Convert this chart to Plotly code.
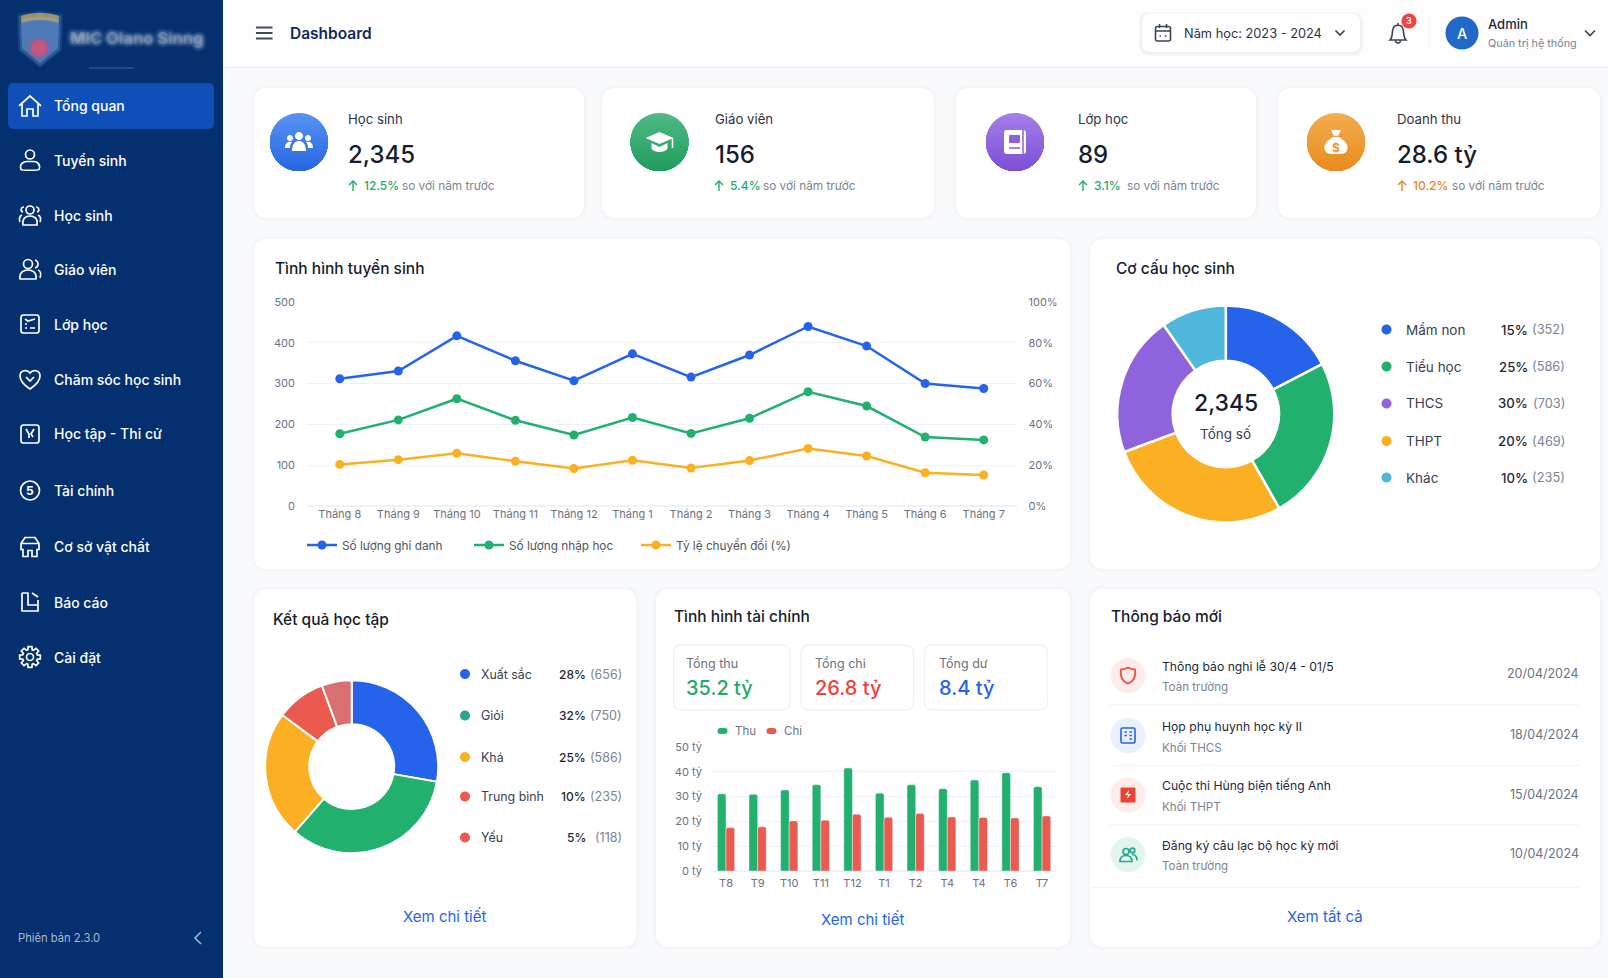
import re
import math
import plotly.graph_objects as go

W = 1608
H = 978
FONT = "Inter"

BLUE = "#2563eb"
GREEN = "#22b06f"
ORANGE = "#fbb024"
RED = "#eb5a4e"
PURPLE = "#8f63dc"
SKY = "#4fb6dc"
DARK = "#161d2c"
TEXT = "#374151"
GREY = "#7a8494"
GRID = "#eef1f5"
NAVY = "#04306f"

# sidebar and header
menu_items = ["Tổng quan", "Tuyển sinh", "Học sinh", "Giáo viên", "Lớp học", "Chăm sóc học sinh",
              "Học tập - Thi cử", "Tài chính", "Cơ sở vật chất", "Báo cáo", "Cài đặt"]
menu_y = [106, 160.5, 215, 269, 324, 379, 434, 490.5, 546.5, 602, 657]

# stat cards
stat_labels = ["Học sinh", "Giáo viên", "Lớp học", "Doanh thu"]
stat_values = ["2,345", "156", "89", "28.6 tỷ"]
stat_deltas = ["12.5%", "5.4%", "3.1%", "10.2%"]

# enrolment chart
months = ["Tháng 8", "Tháng 9", "Tháng 10", "Tháng 11", "Tháng 12", "Tháng 1", "Tháng 2", "Tháng 3",
          "Tháng 4", "Tháng 5", "Tháng 6", "Tháng 7"]
registered = [312, 331, 417, 356, 307, 373, 316, 370, 440, 392, 300, 288]
enrolled = [177, 211, 263, 210, 174, 217, 178, 215, 280, 245, 169, 162]
conversion = [20.4, 22.7, 25.8, 21.9, 18.4, 22.4, 18.6, 22.3, 28.2, 24.5, 16.3, 15.2]

# student structure donut (slices drawn in this order in the picture)
slice_labels = ["Mầm non", "Tiểu học", "THPT", "THCS", "Khác"]
slice_values = [17.4, 24.4, 27.5, 21.0, 9.7]
structure_labels = ["Mầm non", "Tiểu học", "THCS", "THPT", "Khác"]
structure_pct = ["15%", "25%", "30%", "20%", "10%"]
structure_count = ["(352)", "(586)", "(703)", "(469)", "(235)"]

# results donut
result_labels = ["Xuất sắc", "Giỏi", "Khá", "Trung bình", "Yếu"]
result_slices = [27.8, 33.6, 23.8, 9.2, 5.6]
result_pct = ["28%", "32%", "25%", "10%", "5%"]
result_count = ["(656)", "(750)", "(586)", "(235)", "(118)"]

# finance chart
fin_labels = ["T8", "T9", "T10", "T11", "T12", "T1", "T2", "T4", "T4", "T6", "T7"]
fin_in = [31.1, 30.9, 32.7, 34.8, 41.5, 31.4, 34.8, 33.2, 36.7, 39.6, 34.0]
fin_out = [17.5, 17.8, 20.2, 20.5, 22.9, 21.7, 23.2, 21.8, 21.6, 21.4, 22.2]
fin_totals = ["35.2 tỷ", "26.8 tỷ", "8.4 tỷ"]
fin_total_labels = ["Tổng thu", "Tổng chi", "Tổng dư"]

# notifications
notice_titles = ["Thông báo nghi lễ 30/4 - 01/5", "Họp phụ huynh học kỳ II", "Cuộc thi Hùng biện tiếng Anh",
                 "Đăng ký câu lạc bộ học kỳ mới"]
notice_groups = ["Toàn trường", "Khối THCS", "Khối THPT", "Toàn trường"]
notice_dates = ["20/04/2024", "18/04/2024", "15/04/2024", "10/04/2024"]

shapes = []
notes = []


def path(d, cx=0, cy=0, s=1):
    out = []
    is_x = True
    for tok in re.findall(r"[A-Za-z]|-?\d*\.?\d+", d):
        if tok.isalpha():
            out.append(tok)
            is_x = True
        elif is_x:
            out.append(f"{(cx + s * float(tok)) / W:.5f}")
            is_x = False
        else:
            out.append(f",{1 - (cy + s * float(tok)) / H:.5f} ")
            is_x = True
    return "".join(out)


def draw(d, cx=0, cy=0, s=1, fill=None, line=None, w=0, opacity=1):
    shapes.append(dict(type="path", path=path(d, cx, cy, s), xref="paper", yref="paper", layer="below",
                       fillcolor=fill if fill else "rgba(0,0,0,0)", opacity=opacity,
                       line=dict(color=line if line else "rgba(0,0,0,0)", width=w)))


def rr(x0, y0, x1, y1, r):
    return (f"M{x0 + r} {y0} L{x1 - r} {y0} Q{x1} {y0} {x1} {y0 + r} L{x1} {y1 - r} Q{x1} {y1} {x1 - r} {y1} "
            f"L{x0 + r} {y1} Q{x0} {y1} {x0} {y1 - r} L{x0} {y0 + r} Q{x0} {y0} {x0 + r} {y0} Z")


def circ(cx, cy, r):
    k = round(0.5523 * r, 3)
    return (f"M{cx - r} {cy} C{cx - r} {cy - k} {cx - k} {cy - r} {cx} {cy - r} "
            f"C{cx + k} {cy - r} {cx + r} {cy - k} {cx + r} {cy} "
            f"C{cx + r} {cy + k} {cx + k} {cy + r} {cx} {cy + r} "
            f"C{cx - k} {cy + r} {cx - r} {cy + k} {cx - r} {cy} Z")


def grad_circle(cx, cy, r, top, bottom, bands=14):
    # top to bottom fake gradient: each band is the circle segment from its own top edge downwards
    draw(circ(cx, cy, r), fill=f"rgb{top}")
    for b in range(1, bands):
        f = b / bands
        col = tuple(round(top[c] + (bottom[c] - top[c]) * f) for c in range(3))
        start = math.asin(1 - 2 * f)
        pts = []
        for n in range(41):
            a = -start + (math.pi + 2 * start) * n / 40
            pts.append(f"{round(cx + r * math.cos(a), 2)} {round(cy + r * math.sin(a), 2)}")
        draw("M" + " L".join(pts) + " Z", fill=f"rgb{col}")


def txt(x, y, text, size=14, color=TEXT, weight=400, anchor="left", shadow=None):
    font = dict(family=FONT, size=size, color=color, weight=weight)
    if shadow:
        font["shadow"] = shadow
    notes.append(dict(x=x / W, y=1 - y / H, xref="paper", yref="paper", text=text, showarrow=False,
                      xanchor=anchor, yanchor="middle", borderpad=0, borderwidth=0, font=font))


def card(x0, y0, x1, y1, r=14):
    draw(rr(x0 - 3, y0 - 3, x1 + 3, y1 + 3, r + 3), fill="#e8ebf2", opacity=0.15)
    draw(rr(x0 - 1.5, y0 - 1.5, x1 + 1.5, y1 + 1.5, r + 1.5), fill="#e8ebf2", opacity=0.3)
    draw(rr(x0, y0, x1, y1, r), fill="#ffffff")


# ---- sidebar
draw(f"M0 0 L223 0 L223 {H} L0 {H} Z", fill=NAVY)
draw(rr(8, 83, 214, 129, 6), fill="#0f50b8")

# blurred logo
draw("M17 14 L40 10 L63 14 L62 50 L40 68 L18 50 Z", fill="#5f8cc8", opacity=0.18)
draw("M19 16 L40 12 L61 16 L60 50 L40 66 L20 50 Z", fill="#5f8cc8", opacity=0.35)
draw("M21 19 L40 16 L59 19 L58 48 L40 63 L22 48 Z", fill="#5a86c4", opacity=0.75)
draw("M21 16 C30 12 50 12 59 16 L58 23 C48 19 32 19 22 23 Z", fill="#c9ab62", opacity=0.7)
draw(circ(39, 48, 11), fill="#d84a78", opacity=0.3)
draw(circ(39, 48, 8), fill="#dc4f6e", opacity=0.75)
txt(70, 38, "MIC Olano Sinng", 16.5, "rgba(215,226,243,0.16)", 700,
    shadow="0 0 6px #fff, 0 0 6px #fff, 0 0 5px #fff, 0 0 5px #fff, 0 0 4px #fff, 0 0 4px #fff")
draw("M89 68 L134 68", line="#3f639b", w=1)

ICON = dict(line="#ffffff", w=1.7)
draw("M-11 0 L0 -10 L11 0 M-8 -2 L-8 10 L-3 10 L-3 3 L3 3 L3 10 L8 10 L8 -2", 30, menu_y[0], 1, **ICON)
draw(circ(0, -6, 4.5), 30, menu_y[1], 1, **ICON)
draw("M-9 9 C-11 3 -6 1 -3 1 L4 1 C7 1 11 4 9 9 C8 10 -8 10 -9 9 Z", 30, menu_y[1], 1, **ICON)
draw(circ(0, -5, 4), 30, menu_y[2], 1, **ICON)
draw("M-7 10 C-8 3 -4 1 0 1 C4 1 8 3 7 10 Z M-6 -8 C-9 -8 -10 -4 -7 -3 M6 -8 C9 -8 10 -4 7 -3 M-8 0 C-11 1 -11 5 -10 7 "
     "M8 0 C11 1 11 5 10 7", 30, menu_y[2], 1, **ICON)
draw(circ(-2, -5, 4.5), 30, menu_y[3], 1, **ICON)
draw("M-10 10 C-11 3 -6 1 -2 1 C2 1 7 3 6 10 Z M5 -9 C9 -8 9 -2 5 -1 M8 1 C11 2 11 6 10 9", 30, menu_y[3], 1, **ICON)
draw(rr(-9, -9, 9, 9, 2.5), 30, menu_y[4], 1, **ICON)
draw("M-5 -5 L-2 -3 L5 -5 M-5 0 L-3 0 M-5 4 L-3 4 M0 4 L5 4", 30, menu_y[4], 1, **ICON)
draw("M0 10 C-6 6 -10 2 -10 -3 C-10 -9 -3 -10 0 -6 C3 -10 10 -9 10 -3 C10 2 6 6 0 10 Z M-4 -2 L0 2 L4 -2",
     30, menu_y[5], 1, **ICON)
draw(rr(-9, -9, 9, 9, 2.5), 30, menu_y[6], 1, **ICON)
draw("M-4 -5 L-1 0 L-1 4 M4 -5 L1 0 L3 3", 30, menu_y[6], 1, **ICON)
draw(circ(0, 0, 9.5), 30, menu_y[7], 1, **ICON)
txt(30, menu_y[7], "5", 12, "#ffffff", 700, "center")
draw("M-9 -3 L-5 -9 L5 -9 L9 -3 L9 3 L7 3 L7 10 L2 10 L2 4 L-2 4 L-2 10 L-7 10 L-7 3 L-9 3 Z M-9 -3 L9 -3",
     30, menu_y[8], 1, **ICON)
draw("M-8 -9 L-2 -9 L-2 3 L8 3 M-8 -9 L-8 9 L8 9 L8 -2 M2 -9 L8 -5", 30, menu_y[9], 1, **ICON)
gear = []
for i in range(8):
    a = i * math.pi / 4
    for da, rad in [(-0.3, 7.5), (-0.18, 10.5), (0.18, 10.5), (0.3, 7.5)]:
        gear.append((round(rad * math.cos(a + da), 2), round(rad * math.sin(a + da), 2)))
draw("M" + " L".join(f"{gx} {gy}" for gx, gy in gear) + " Z", 30, menu_y[10], 1, **ICON)
draw(circ(0, 0, 3.5), 30, menu_y[10], 1, **ICON)

for name, y in zip(menu_items, menu_y):
    txt(53.5, y, name, 14, "#ffffff", 500)
txt(18, 938, "Phiên bản 2.3.0", 11.2, "#a9b8d2")
draw("M4 -6 L-2 0 L4 6", 197, 938, 1, line="#a9b8d2", w=1.5)

# ---- header
draw(f"M223 0 L{W} 0 L{W} 67 L223 67 Z", fill="#fdfdfe")
draw(f"M223 67.5 L{W} 67.5", line="#eceef2", w=1.5)
draw("M256 27.5 L272.5 27.5 M256 33 L272.5 33 M256 38.5 L272.5 38.5", line="#414a5a", w=1.8)
txt(290, 33, "Dashboard", 15.5, "#14295a", 600)

draw(rr(1139, 12, 1363, 56, 10), fill="#e4e7ee", opacity=0.3)
draw(rr(1140.5, 13, 1361.5, 54, 9), fill="#e4e7ee", opacity=0.4)
draw(rr(1142, 13.5, 1360, 52, 8), fill="#ffffff")
draw(rr(-7.5, -6.5, 7.5, 8, 2) + " M-7.5 -2 L7.5 -2 M-3.5 -9 L-3.5 -5 M3.5 -9 L3.5 -5 M-3.5 3 L-2 3 M2 3 L3.5 3",
     1163, 33, 1, line="#3c4453", w=1.6)
txt(1184, 33, "Năm học: 2023 - 2024", 12.8, "#2b3444")
draw("M-4.5 -2.5 L0 2 L4.5 -2.5", 1340, 33, 1, line="#3c4453", w=1.6)
draw("M-8 7 C-5 4 -6 -2 -5 -4 C-4 -9 4 -9 5 -4 C6 -2 5 4 8 7 Z M-2.5 7.5 C-2 11 2 11 2.5 7.5 M0 -8 L0 -10",
     1398, 33, 1, line="#3c4453", w=1.6)
draw(circ(1409, 21, 7.5), fill="#ef4444")
txt(1409, 21, "3", 9, "#ffffff", 600, "center")
draw("M1429 18 L1429 48", line="#f0f1f4", w=1)
draw(circ(1462, 33, 16.5), fill="#2268c8")
txt(1462, 33.5, "A", 14.5, "#ffffff", 500, "center")
txt(1488, 24, "Admin", 13, "#1f2937", 500)
txt(1488, 43, "Quản trị hệ thống", 10.8, GREY)
draw("M-5 -2.5 L0 2.5 L5 -2.5", 1590, 33, 1, line="#3c4453", w=1.6)

# ---- stat cards
stat_boxes = [(254, 584), (602, 934), (956, 1256), (1278, 1600)]
stat_circle_x = [299, 659.5, 1015, 1336]
stat_top = [(86, 146, 240), (78, 184, 132), (162, 126, 232), (243, 172, 80)]
stat_bottom = [(36, 100, 226), (29, 156, 92), (122, 76, 214), (232, 136, 26)]
stat_text_x = [348, 715, 1078, 1397]
stat_arrow_x = [353, 719, 1083, 1402]
stat_delta_x = [364, 730, 1094, 1413]
stat_so_x = [402, 763, 1127, 1452]
delta_colors = ["#22ab6a", "#22ab6a", "#22ab6a", "#e8842a"]
for i in range(4):
    card(stat_boxes[i][0], 88, stat_boxes[i][1], 218)
    grad_circle(stat_circle_x[i], 142, 29, stat_top[i], stat_bottom[i])
    txt(stat_text_x[i], 119, stat_labels[i], 13.2, "#2b3444")
    txt(stat_text_x[i], 154, stat_values[i], 24, DARK, 500)
    draw("M0 5 L0 -5 M-4 -1 L0 -5 L4 -1", stat_arrow_x[i], 186, 1, line=delta_colors[i], w=1.4)
    txt(stat_delta_x[i], 185.5, stat_deltas[i], 12, delta_colors[i], 500)
    txt(stat_so_x[i], 185.5, "so với năm trước", 11.8, GREY)

# people icon
draw(circ(0, -6, 4) + circ(-9, -4, 3) + circ(9, -4, 3), 299, 142, 1, fill="#ffffff")
draw("M-7 9 C-7 1 -3 -1 0 -1 C3 -1 7 1 7 9 Z M-14 6 C-14 0 -10 -1 -7 0 C-9 2 -9 4 -9 6 Z "
     "M14 6 C14 0 10 -1 7 0 C9 2 9 4 9 6 Z", 299, 142, 1, fill="#ffffff")
# cap icon
draw("M-14 -4 L0 -10 L14 -4 L0 2 Z M-8 1 L0 5 L8 1 L8 7 C4 11 -4 11 -8 7 Z", 659.5, 142, 1, fill="#ffffff")
draw("M13 -4 L13 6", 659.5, 142, 1, line="#ffffff", w=1.5)
# book icon
draw(rr(-11, -12, 11, 12, 3), 1015, 142, 1, fill="#ffffff")
draw(rr(-6, -7, 5, 1, 1), 1015, 142, 1, fill="#8b62dc")
draw("M-6 6 L5 6 M8 -12 L8 12", 1015, 142, 1, line="#8b62dc", w=1.5)
# bag icon
draw("M-5 -12 L5 -12 L2 -6 L-2 -6 Z M-3 -5 L3 -5 C10 -1 13 4 11 8 C10 12 6 12 0 12 C-6 12 -10 12 -11 8 "
     "C-13 4 -10 -1 -3 -5 Z", 1336, 142, 1, fill="#ffffff")
txt(1336, 147, "$", 12, "#f0992b", 700, "center")

# ---- big cards
card(254, 239, 1070.5, 569)
txt(275, 268, "Tình hình tuyển sinh", 15.5, DARK, 500)
card(1090, 239, 1600, 569)
txt(1116, 268, "Cơ cấu học sinh", 15.5, DARK, 500)
card(254, 589, 636.5, 947)
txt(272.5, 619, "Kết quả học tập", 15.5, DARK, 500)
card(656, 589, 1070.5, 947)
txt(673.5, 616, "Tình hình tài chính", 15.5, DARK, 500)
card(1090, 589, 1600, 947)
txt(1111, 616, "Thông báo mới", 15.5, DARK, 500)

# donut legends
slice_colors = [BLUE, GREEN, ORANGE, PURPLE, SKY]
structure_colors = [BLUE, GREEN, PURPLE, ORANGE, SKY]
structure_rows = [329.5, 366.5, 403.5, 441, 477.5]
for i in range(5):
    draw(circ(1386.5, structure_rows[i], 5), fill=structure_colors[i])
    txt(1406, structure_rows[i], structure_labels[i], 13.5, TEXT)
    txt(1527.5, structure_rows[i], structure_pct[i], 13.2, "#1f2937", 500, "right")
    txt(1565, structure_rows[i], structure_count[i], 12.8, GREY, 400, "right")
txt(1225.8, 403, "2,345", 23, DARK, 500, "center")
txt(1225.8, 433, "Tổng số", 13.5, TEXT, 400, "center")

result_colors = [BLUE, GREEN, ORANGE, RED, "#d9706f"]
result_dots = [BLUE, "#2aa58f", ORANGE, RED, RED]
result_rows = [674, 715.5, 757, 796.5, 837.5]
for i in range(5):
    draw(circ(465, result_rows[i], 5), fill=result_dots[i])
    txt(481, result_rows[i], result_labels[i], 12.4, TEXT)
    txt(585.5, result_rows[i], result_pct[i], 12, "#1f2937", 500, "right")
    txt(621.5, result_rows[i], result_count[i], 12.5, GREY, 400, "right")
txt(445, 916, "Xem chi tiết", 15, BLUE, 400, "center")

# finance boxes
fin_boxes = [(673.5, 790), (801, 913.5), (924.5, 1047.5)]
fin_box_text = [685.5, 815, 939]
fin_colors = ["#22ab6a", "#ef4136", BLUE]
for i in range(3):
    draw(rr(fin_boxes[i][0], 645, fin_boxes[i][1], 710, 8), fill="#ffffff", line="#eff1f5", w=1.3)
    txt(fin_box_text[i], 663.5, fin_total_labels[i], 12.5, "#6b7280")
    txt(fin_box_text[i], 688, fin_totals[i], 20, fin_colors[i], 500)
draw(rr(717.5, 728, 727.5, 734, 3), fill=GREEN)
txt(735, 731, "Thu", 11.5, "#6b7280")
draw(rr(766.5, 728, 776.5, 734, 3), fill=RED)
txt(783.5, 731, "Chi", 11.5, "#6b7280")
txt(862, 919, "Xem chi tiết", 15, BLUE, 400, "center")

# notifications
notice_y = [675.5, 735.5, 795, 854.5]
notice_title_y = [666.5, 726.5, 785.5, 845]
notice_group_y = [687, 747, 806, 865.5]
notice_date_y = [673.5, 734, 794, 853.5]
notice_bg = ["#fdecea", "#e8f0fe", "#fdecea", "#e3f5ef"]
for i in range(4):
    draw(circ(1128, notice_y[i], 17.5), fill=notice_bg[i])
    txt(1161.5, notice_title_y[i], notice_titles[i], 12.2, "#1f2937")
    txt(1161.5, notice_group_y[i], notice_groups[i], 11.6, GREY)
    txt(1578.5, notice_date_y[i], notice_dates[i], 12.5, "#6b7280", 400, "right")
draw("M0 -8 C3 -6 6 -6 7 -6 C8 1 6 6 0 8 C-6 6 -8 1 -7 -6 C-6 -6 -3 -6 0 -8 Z", 1128, notice_y[0], 1, line=RED, w=2)
draw(rr(-7, -7.5, 7, 7.5, 1.5), 1128, notice_y[1], 1, line=BLUE, w=1.6)
draw("M-3.5 -3.5 L-1 -3.5 M1.5 -3.5 L4 -3.5 M-3.5 0 L-1 0 M1.5 0 L4 0 M1.5 3.5 L4 3.5", 1128, notice_y[1], 1, line=BLUE, w=1.6)
draw(rr(-7.5, -7.5, 7.5, 7.5, 1), 1128, notice_y[2], 1, fill="#ea4335")
draw("M1 -5 L-3 0 L0 0 L-1 4 L3 -1 L0 -1 Z", 1128, notice_y[2], 1, fill="#ffffff")
draw(circ(-2, -3, 3) + circ(4.5, -4, 2.3), 1128, notice_y[3], 1, line="#2aa58f", w=1.7)
draw("M-8 7 C-8 2 -5 1 -2 1 C1 1 4 2 4 7 Z M4 0 C7 0 9 2 9 6", 1128, notice_y[3], 1, line="#2aa58f", w=1.7)
for y in [705, 765.5, 825]:
    draw(f"M1110 {y} L1579 {y}", line="#f0f2f5", w=1.2)
draw("M1092 887.5 L1579 887.5", line="#f0f2f5", w=1.2)
txt(1325, 916, "Xem tất cả", 15, BLUE, 400, "center")

# ---- charts
fig = go.Figure()

fig.add_trace(go.Scatter(x=months, y=registered, name="Số lượng ghi danh", mode="lines+markers",
                         line=dict(color=BLUE, width=2.5), marker=dict(size=9, color=BLUE),
                         xaxis="x", yaxis="y"))
fig.add_trace(go.Scatter(x=months, y=enrolled, name="Số lượng nhập học", mode="lines+markers",
                         line=dict(color=GREEN, width=2.5), marker=dict(size=9, color=GREEN),
                         xaxis="x", yaxis="y"))
fig.add_trace(go.Scatter(x=months, y=conversion, name="Tỷ lệ chuyển đổi (%)", mode="lines+markers",
                         line=dict(color=ORANGE, width=2.5), marker=dict(size=9, color=ORANGE),
                         xaxis="x", yaxis="y2"))

fig.add_trace(go.Pie(values=slice_values, labels=slice_labels, hole=0.49, sort=False, direction="clockwise",
                     rotation=0, textinfo="none", showlegend=False,
                     marker=dict(colors=slice_colors, line=dict(color="#ffffff", width=2.5)),
                     domain=dict(x=[(1225.8 - 108.5) / W, (1225.8 + 108.5) / W],
                                 y=[1 - (414 + 108.5) / H, 1 - (414 - 108.5) / H])))
fig.add_trace(go.Pie(values=result_slices, labels=result_labels, hole=0.49, sort=False, direction="clockwise",
                     rotation=0, textinfo="none", showlegend=False,
                     marker=dict(colors=result_colors, line=dict(color="#ffffff", width=2)),
                     domain=dict(x=[(351.7 - 86.5) / W, (351.7 + 86.5) / W],
                                 y=[1 - (766.7 + 86.5) / H, 1 - (766.7 - 86.5) / H])))

fin_x = list(range(len(fin_labels)))
fig.add_trace(go.Bar(x=fin_x, y=fin_in, name="Thu", marker=dict(color=GREEN), showlegend=False,
                     xaxis="x3", yaxis="y3"))
fig.add_trace(go.Bar(x=fin_x, y=fin_out, name="Chi", marker=dict(color=RED), showlegend=False,
                     xaxis="x3", yaxis="y3"))

tick_font = dict(family=FONT, size=11, color="#6b7280")

fig.update_layout(
    width=W, height=H, margin=dict(l=0, r=0, t=0, b=0, autoexpand=False), autosize=False,
    paper_bgcolor="#f8f9fb", plot_bgcolor="rgba(0,0,0,0)",
    font=dict(family=FONT),
    shapes=shapes, annotations=notes,
    barmode="group", bargap=0.455, bargroupgap=0, barcornerradius=2,
    showlegend=True,
    legend=dict(orientation="h", x=302 / W, y=1 - 545 / H, xanchor="left", yanchor="middle",
                entrywidth=122, entrywidthmode="pixels", itemwidth=30, bgcolor="rgba(0,0,0,0)",
                font=dict(family=FONT, size=11.8, color="#4b5563")),
    xaxis=dict(domain=[307 / W, 1016.5 / W], range=[-0.56, 11.56], type="category", showgrid=False, zeroline=False,
               showline=False, ticks="", tickfont=tick_font, anchor="y", tickangle=0),
    yaxis=dict(domain=[1 - 506 / H, 1 - 302 / H], range=[0, 500], dtick=100, gridcolor=GRID, zeroline=True,
               zerolinecolor=GRID, showline=False, ticks="", tickfont=tick_font, anchor="x", ticklabelstandoff=11),
    yaxis2=dict(domain=[1 - 506 / H, 1 - 302 / H], range=[0, 100], dtick=20, ticksuffix="%", showgrid=False,
                zeroline=False, showline=False, ticks="", tickfont=tick_font, overlaying="y", side="right",
                anchor="x", ticklabelstandoff=11),
    xaxis3=dict(domain=[711 / W, 1056 / W], range=[-0.475, 10.44], tickvals=fin_x, ticktext=fin_labels, showgrid=False,
                zeroline=False, showline=False, ticks="", tickfont=tick_font, anchor="y3", tickangle=0,
                ticklabelstandoff=4),
    yaxis3=dict(domain=[1 - 871 / H, 1 - 747 / H], range=[0, 50], dtick=10, ticksuffix=" tỷ", gridcolor=GRID,
                zeroline=True, zerolinecolor=GRID, showline=False, ticks="", tickfont=tick_font, anchor="x3",
                ticklabelstandoff=8),
)

fig.write_html("out.html", config=dict(displayModeBar=False), post_script="document.body.style.margin='0';")
